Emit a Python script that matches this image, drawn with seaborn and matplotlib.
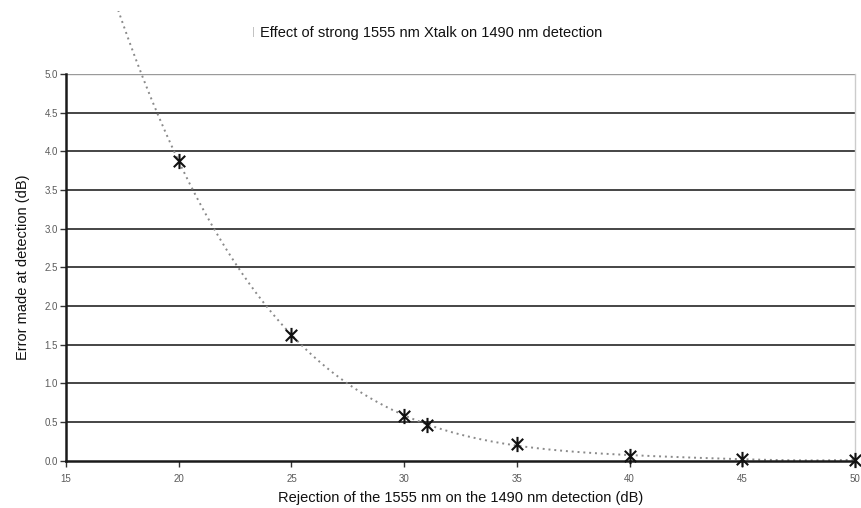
import numpy as np
import pandas as pd
import matplotlib
matplotlib.use("Agg")
import matplotlib.pyplot as plt
from matplotlib.path import Path
from matplotlib.transforms import Bbox, TransformedBbox
import seaborn as sns

# data
rejection_db = [20, 25, 30, 31, 35, 40, 45, 50]
error_db = [3.87, 1.63, 0.58, 0.46, 0.21, 0.06, 0.02, 0.01]
x_ticks = [15, 20, 25, 30, 35, 40, 45, 50]
y_ticks = [0.0, 0.5, 1.0, 1.5, 2.0, 2.5, 3.0, 3.5, 4.0, 4.5, 5.0]
title = "Effect of strong 1555 nm Xtalk on 1490 nm detection"
xlabel = "Rejection of the 1555 nm on the 1490 nm detection (dB)"
ylabel = "Error made at detection (dB)"

df = pd.DataFrame({"x": rejection_db, "y": error_db})

# 4th-order polynomial trend line fitted from the data (spreadsheet-style trendline)
coef = np.polyfit(df["x"], df["y"], 4)
tx = np.linspace(16.5, 50, 400)
trend = pd.DataFrame({"x": tx, "y": np.polyval(coef, tx)})

sns.set_theme(style="white")
plt.rcParams["font.family"] = ["Liberation Sans", "DejaVu Sans"]

fig = plt.figure(figsize=(8.62, 5.08), dpi=100)
ax = fig.add_axes([0.0766, 0.0935, 0.9153, 0.7608])

for yv in y_ticks[1:-1]:
    ax.axhline(yv, color="#262626", lw=1.2, zorder=1)
ax.axhline(5.0, color="#9a9a9a", lw=1.0, zorder=1)

sns.lineplot(data=trend, x="x", y="y", ax=ax, color="#8a8a8a", lw=1.4,
             linestyle=(0, (1, 2)), zorder=2)
chart_area = TransformedBbox(Bbox([[0.0, 0.0], [1.0, 0.978]]), fig.transFigure)
for ln in ax.get_lines()[-1:]:
    ln.set_clip_box(chart_area)

star = Path([(0, -1), (0, 1), (-0.75, -0.75), (0.75, 0.75), (-0.75, 0.75), (0.75, -0.75)],
            [Path.MOVETO, Path.LINETO, Path.MOVETO, Path.LINETO, Path.MOVETO, Path.LINETO])
sns.scatterplot(data=df, x="x", y="y", ax=ax, marker=star, s=120,
                color="#111111", edgecolor="#111111", linewidth=1.5, zorder=3, clip_on=False)

ax.set_xlim(15, 50)
ax.set_ylim(0, 5.0)
ax.set_xticks(x_ticks)
ax.set_yticks(y_ticks)
ax.set_xticklabels([str(v) for v in x_ticks])
ax.set_yticklabels([f"{v:.1f}" for v in y_ticks])
ax.tick_params(axis="both", labelsize=7, labelcolor="#5a5a5a", length=4,
               width=1, color="#333333", direction="out", pad=4)
ax.tick_params(axis="x", bottom=True, pad=6)
ax.tick_params(axis="y", left=True, pad=2)

for side in ["left", "bottom"]:
    ax.spines[side].set_color("#1a1a1a")
    ax.spines[side].set_linewidth(1.8)
ax.spines["top"].set_visible(False)
ax.spines["right"].set_color("#cccccc")
ax.spines["right"].set_linewidth(1.0)

fs = 10.5
ax.set_xlabel(xlabel, fontsize=fs, color="#111111", labelpad=5)
ax.set_ylabel(ylabel, fontsize=fs, color="#111111", labelpad=10)

fig.text(431.5 / 862, 0.935, title, ha="center", va="center", fontsize=fs, color="#111111")
fig.text(253 / 862, 0.937, "|", ha="center", va="center", fontsize=8, color="#bbbbbb")

fig.savefig("out.png", dpi=100)
